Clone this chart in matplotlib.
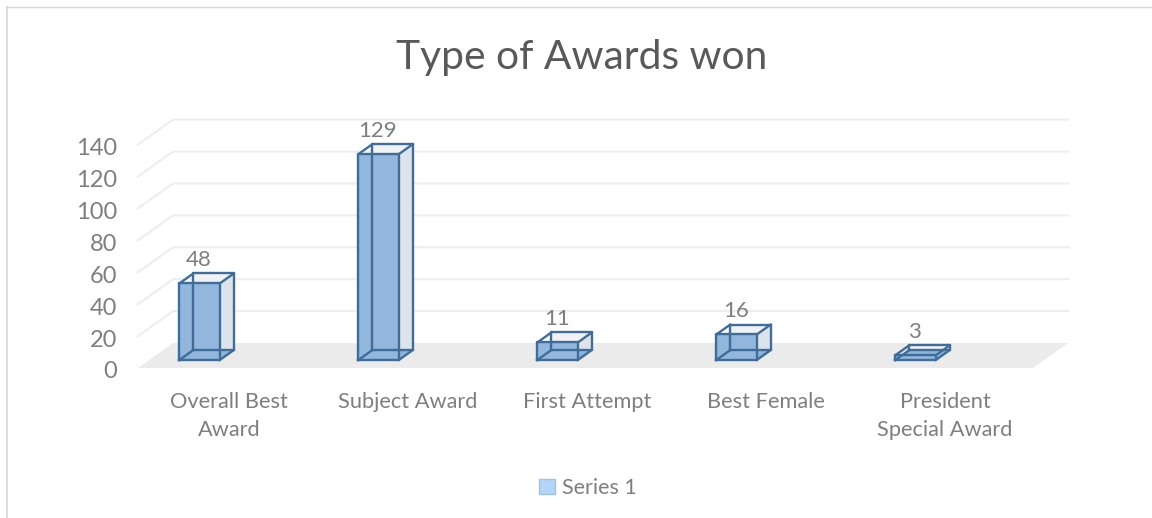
import matplotlib
matplotlib.use("Agg")
import matplotlib.pyplot as plt
from matplotlib.lines import Line2D
from matplotlib.patches import Patch
from matplotlib.transforms import ScaledTranslation

# data
categories = ["Overall Best\nAward", "Subject Award", "First Attempt", "Best Female", "President\nSpecial Award"]
values = [48, 129, 11, 16, 3]
y_ticks = [0, 20, 40, 60, 80, 100, 120, 140]
series_name = "Series 1"
title = "Type of Awards won"

# look of the fake 3D
W, H = 1152, 518
FONT = "Lato"
LINE = "#3f6d99"
GRID = "#eeeeee"
TEXT = "#7f7f7f"
WALL_DX = 35 / 179      # how far the back wall sits, in category units
WALL_DY = 25 / 1.596    # same, in value units
LIFT = 5                # bars stand a little in from the floor's front edge
BAR_SHIFT = -0.156      # bars sit left of the category centre
BAR_WIDTH = 0.226
BAR_DX = 0.078
BAR_DY = 6.25
LABEL_SHIFT = -0.16
LABEL_GAP = 8.5

fig = plt.figure(figsize=(W / 100, H / 100), dpi=100, facecolor="white")
ax = fig.add_axes([138 / W, 1 - 368 / H, 895 / W, (368 - 144.6) / H])
ax.set_xlim(0, 5)
ax.set_ylim(0, 140)
ax.patch.set_visible(False)
for s in ax.spines.values():
    s.set_visible(False)

# chart frame, only top and left show
fig.add_artist(Line2D([6.8 / W, 6.8 / W], [0, 1 - 7 / H], color="#d9d9d9", lw=1.3))
fig.add_artist(Line2D([6.8 / W, 1], [1 - 7 / H, 1 - 7 / H], color="#d9d9d9", lw=1))

# floor and gridlines
n = len(categories)
ax.fill([0, n, n + WALL_DX, WALL_DX], [0, 0, WALL_DY, WALL_DY], color="#ebebeb", lw=0, clip_on=False, zorder=1)
for t in y_ticks[1:]:
    ax.plot([0, WALL_DX, n + WALL_DX], [t, t + WALL_DY, t + WALL_DY], color=GRID, lw=1.5, clip_on=False, zorder=1)

# bars
for i, v in enumerate(values):
    x0 = i + 0.5 + BAR_SHIFT - BAR_WIDTH / 2
    x1 = x0 + BAR_WIDTH
    dx = BAR_DX
    y0 = LIFT
    y1 = LIFT + v
    kw = dict(clip_on=False, lw=0)
    # back, side, top, front: all see-through
    ax.fill([x0 + dx, x1 + dx, x1 + dx, x0 + dx], [y0 + BAR_DY, y0 + BAR_DY, y1 + BAR_DY, y1 + BAR_DY], color="#f0f1f3", zorder=2, **kw)
    ax.fill([x1, x1 + dx, x1 + dx, x1], [y0, y0 + BAR_DY, y1 + BAR_DY, y1], color="#dde3ea", zorder=2, **kw)
    ax.fill([x0, x1, x1 + dx, x0 + dx], [y0, y0, y0 + BAR_DY, y0 + BAR_DY], color="#8fb4da", zorder=2, **kw)
    ax.fill([x0, x1, x1, x0], [y0, y0, y1, y1], color="#92b6dc", zorder=3, **kw)
    edges = [
        ([x0 + dx, x1 + dx, x1 + dx, x0 + dx, x0 + dx], [y0 + BAR_DY, y0 + BAR_DY, y1 + BAR_DY, y1 + BAR_DY, y0 + BAR_DY]),
        ([x0, x0 + dx], [y0, y0 + BAR_DY]),
        ([x1, x1 + dx], [y0, y0 + BAR_DY]),
        ([x0, x0 + dx], [y1, y1 + BAR_DY]),
        ([x1, x1 + dx], [y1, y1 + BAR_DY]),
        ([x0, x1, x1, x0, x0], [y0, y0, y1, y1, y0]),
    ]
    for ex, ey in edges:
        ax.plot(ex, ey, color=LINE, lw=1.7, clip_on=False, zorder=4, solid_joinstyle="round")
    ax.text(i + 0.5 + LABEL_SHIFT, y1 + BAR_DY + LABEL_GAP, str(v), ha="center", va="center",
            color=TEXT, fontsize=16, family=FONT, zorder=5)

# axes text
ax.set_yticks(y_ticks)
ax.set_xticks([i + 0.5 for i in range(n)])
ax.set_xticklabels(categories, linespacing=1.55)
ax.tick_params(axis="both", length=0, labelcolor=TEXT)
ax.tick_params(axis="y", pad=15, labelsize=17)
ax.tick_params(axis="x", pad=17, labelsize=15.7)
for lab in ax.get_xticklabels() + ax.get_yticklabels():
    lab.set_family(FONT)
# nudge the tick text a touch to sit where the original does
for lab in ax.get_yticklabels():
    lab.set_transform(lab.get_transform() + ScaledTranslation(0, -2 / 100, fig.dpi_scale_trans))
for lab in ax.get_xticklabels():
    lab.set_transform(lab.get_transform() + ScaledTranslation(1.5 / 100, 0, fig.dpi_scale_trans))

fig.text(582 / W, 1 - 57 / H, title, ha="center", va="center", fontsize=29.3, color="#595959", family=FONT)

leg = fig.legend(handles=[Patch(facecolor="#b4d5f7", edgecolor="#9dc3e6", label=series_name)],
                 loc="center", bbox_to_anchor=(588 / W, 1 - 488 / H), frameon=False,
                 prop={"family": FONT, "size": 15.5}, handlelength=0.75, handleheight=0.75, handletextpad=0.3,
                 labelcolor=TEXT)

fig.savefig("out.png", dpi=100, facecolor="white")
